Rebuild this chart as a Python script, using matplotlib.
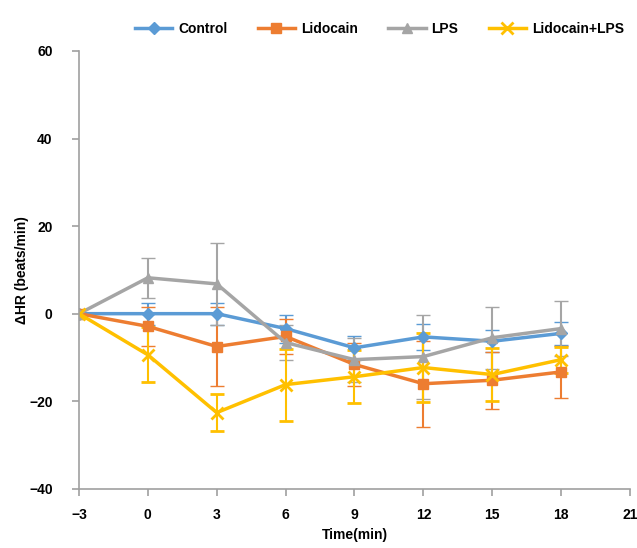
import matplotlib
matplotlib.use('Agg')
import matplotlib.pyplot as plt
from matplotlib.lines import Line2D

plt.rcParams['font.family'] = ['Liberation Sans', 'DejaVu Sans']

time = [-3, 0, 3, 6, 9, 12, 15, 18]

control = [0, 0, 0, -3.4, -7.8, -5.3, -6.3, -4.5]
control_sd = [0, 2.5, 2.5, 3.2, 2.8, 3.0, 2.5, 2.6]

lidocain = [0, -2.9, -7.5, -5.2, -11.6, -16.0, -15.2, -13.3]
lidocain_sd = [0, 4.5, 9.0, 4.0, 5.0, 9.8, 6.5, 6.0]

lps = [0, 8.2, 6.8, -6.6, -10.5, -9.8, -5.5, -3.4]
lps_sd = [0, 4.6, 9.4, 4.0, 5.0, 9.6, 7.1, 6.2]

lido_lps = [0, -9.4, -22.6, -16.2, -14.4, -12.3, -13.9, -10.5]
lido_lps_sd = [0, 6.3, 4.3, 8.2, 6.0, 7.8, 6.0, 3.0]

series = [
    ('Control', control, control_sd, '#5B9BD5', 'D', 6),
    ('Lidocain', lidocain, lidocain_sd, '#ED7D31', 's', 7),
    ('LPS', lps, lps_sd, '#A5A5A5', '^', 7),
    ('Lidocain+LPS', lido_lps, lido_lps_sd, '#FFC000', 'x', 9),
]

fig = plt.figure(figsize=(6.37, 5.48), dpi=100)
ax = fig.add_axes([0.124, 0.108, 0.865, 0.799])

handles = []
for name, vals, sd, col, mk, ms in series:
    mew = 2 if mk == 'x' else 1
    ax.errorbar(time, vals, yerr=sd, color=col, marker=mk, markersize=ms,
                linewidth=2.5, elinewidth=1.5, capsize=5, capthick=1.5,
                markeredgewidth=mew)
    handles.append(Line2D([], [], color=col, marker=mk, markersize=ms,
                          linewidth=2.5, markeredgewidth=mew, label=name))

ax.set_xlim(-3, 21)
ax.set_ylim(-40, 60)
ax.set_xticks(range(-3, 22, 3))
ax.set_yticks(range(-40, 61, 20))

for s in ['top', 'right']:
    ax.spines[s].set_visible(False)
for s in ['left', 'bottom']:
    ax.spines[s].set_color('#A0A0A0')
    ax.spines[s].set_linewidth(1.2)
ax.tick_params(colors='#A0A0A0', labelcolor='black', length=5, width=1.2)
ax.tick_params(axis='x', pad=9)
ax.tick_params(axis='y', pad=14)
for lbl in ax.get_xticklabels() + ax.get_yticklabels():
    lbl.set_fontweight('bold')
    lbl.set_fontsize(10)

ax.set_xlabel('Time(min)', fontweight='bold', fontsize=10, labelpad=4)
ax.set_ylabel('ΔHR (beats/min)', fontweight='bold', fontsize=10, labelpad=0)

ax.legend(handles=handles, loc='lower center', bbox_to_anchor=(0.545, 1.005), ncol=4,
          frameon=False, prop={'weight': 'bold', 'size': 10}, handlelength=2.7,
          columnspacing=2.2, handletextpad=0.4)

fig.savefig('out.png', dpi=100)
